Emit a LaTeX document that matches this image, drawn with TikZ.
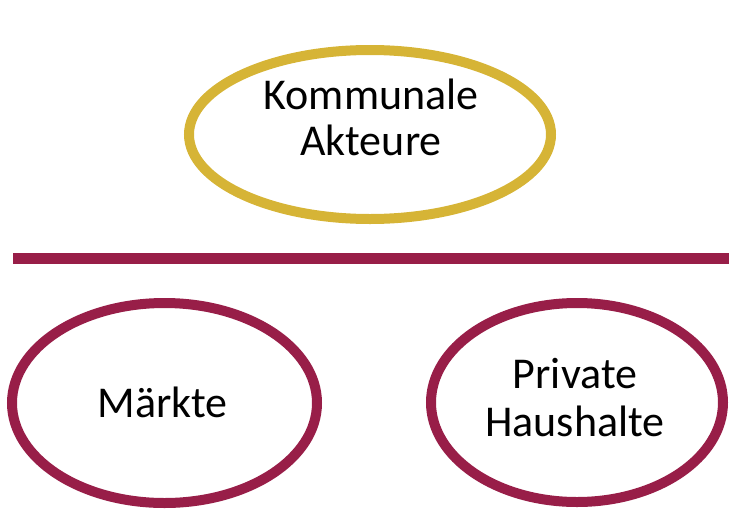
\documentclass[tikz,border=0pt]{standalone}
\usepackage{fontspec}
\setmainfont{Carlito}
\usetikzlibrary{shapes.geometric}
\definecolor{gold}{RGB}{214,180,54}
\definecolor{wine}{RGB}{152,30,72}
\begin{document}
\begin{tikzpicture}[x=1pt,y=1pt,
  ring/.style={ellipse,draw,line width=10pt,inner sep=0pt},
  label/.style={align=center,inner sep=0pt,font=\fontsize{44}{46}\selectfont}]
\useasboundingbox (0,0) rectangle (729,-512);
% actors
\node[ring,draw=gold,minimum width=362pt,minimum height=169pt] (komm) at (370,-134.5) {};
\node[ring,draw=wine,minimum width=305pt,minimum height=200pt] (markt) at (164.5,-403) {};
\node[ring,draw=wine,minimum width=292pt,minimum height=199pt] (haus) at (577,-402.5) {};
% labels
\node[label] (kommtext) at (371,-117) {Kommunale\\Akteure};
\node[label] (markttext) at (162.5,-402.5) {Märkte};
\node[label,font=\fontsize{44}{48}\selectfont] (haustext) at (575,-397.5) {Private\\Haushalte};
% dividing rule
\coordinate (ruleL) at (13,-258.5);
\coordinate (ruleR) at (729,-258.5);
\draw[wine,line width=11pt] (ruleL) -- (ruleR);
\end{tikzpicture}
\end{document}
